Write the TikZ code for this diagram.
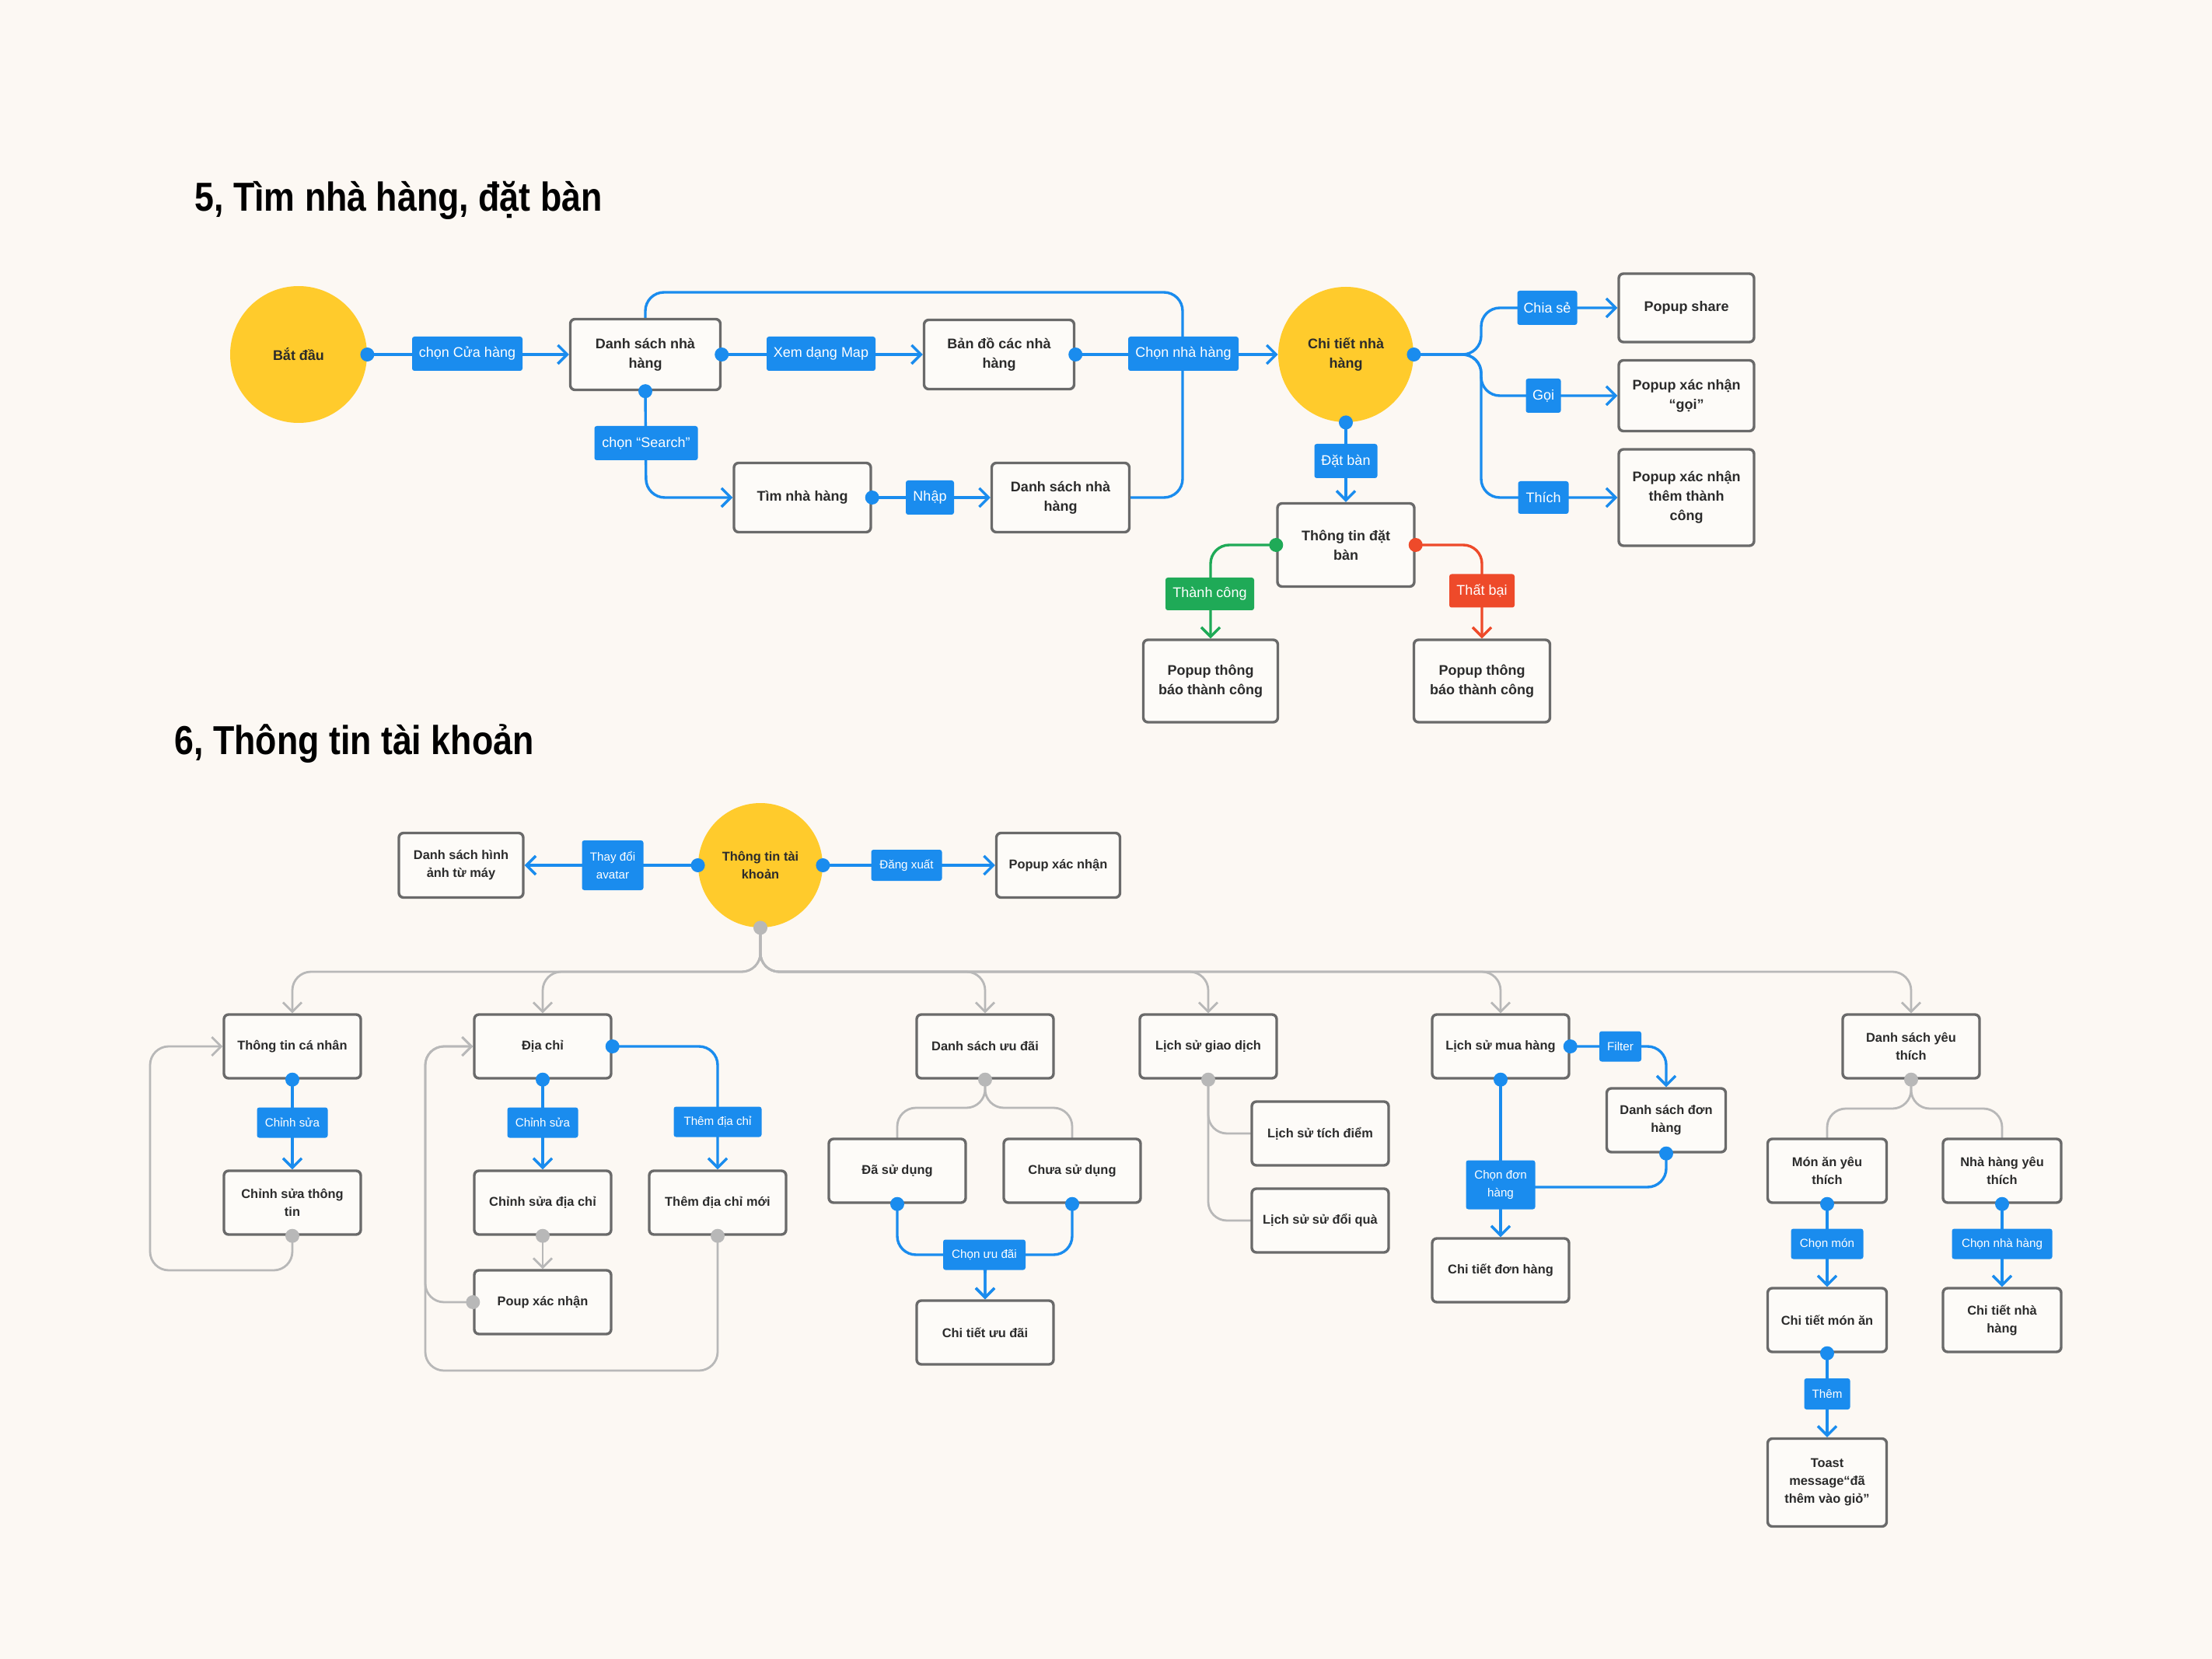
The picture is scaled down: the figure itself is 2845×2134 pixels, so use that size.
\documentclass[tikz,border=0pt]{standalone}
\usepackage{fontspec}
\setmainfont{Liberation Sans}
\newfontfamily\ttlfont{Liberation Sans}[FakeStretch=0.86]
\usetikzlibrary{arrows.meta}
\definecolor{bgc}{HTML}{FCF8F3}
\definecolor{yel}{HTML}{FFCB2C}
\definecolor{blu}{HTML}{1A8CEE}
\definecolor{bxg}{HTML}{6A6A6A}
\definecolor{bxf}{HTML}{FDFBF8}
\definecolor{txt}{HTML}{2B2B2B}
\definecolor{gry}{HTML}{B8B8B8}
\definecolor{grn}{HTML}{1FAA57}
\definecolor{rd}{HTML}{EE4A2A}
\pgfdeclarelayer{back}\pgfdeclarelayer{lines}\pgfsetlayers{back,lines,main}
\newcommand\bxfont{\fontsize{9}{12.5}\selectfont\bfseries}
\newcommand\bxfontb{\fontsize{8.2}{11.5}\selectfont\bfseries}
\newcommand\lbfont{\fontsize{9}{12.5}\selectfont}
\newcommand\lbfontb{\fontsize{7.6}{11.5}\selectfont}
\newcommand\dotat[2]{\fill[#1] (#2) circle (4.5pt);}
\tikzset{
 box/.style={draw=bxg, line width=1.7pt, fill=bxf, rounded corners=3pt, align=center, text=txt, font=\bxfont, inner sep=0pt},
 boxb/.style={box, font=\bxfontb, minimum width=88pt, minimum height=41pt},
 circ/.style={circle, fill=yel, inner sep=0pt, align=center, text=txt, font=\bxfont},
 lab/.style={fill=blu, text=white, rounded corners=1.5pt, inner sep=0pt, align=center, font=\lbfont, minimum height=22pt},
 labb/.style={lab, font=\lbfontb, minimum height=19.5pt},
 conn/.style={line width=1.7pt, rounded corners=12pt, line cap=round, line join=round},
 gconn/.style={conn, gry, line width=1.4pt},
 arr/.style={-{Straight Barb[length=6pt,width=12pt,sharp]}},
 ttl/.style={anchor=base west, text=black, font=\ttlfont\fontsize{26}{30}\selectfont\bfseries, inner sep=0pt}
}
\begin{document}
\begin{tikzpicture}[x=0.5pt,y=-0.5pt]
\useasboundingbox (0,0) rectangle (2845,2134);
\begin{pgfonlayer}{back}
\fill[bgc] (0,0) rectangle (2845,2134);
\end{pgfonlayer}

% ---------- Section 5 ----------
\node[ttl] (t5) at (250,272) {5, Tìm nhà hàng, đặt bàn};
\node[circ, minimum size=88pt] (start) at (384,456) {Bắt đầu};
\node[box, minimum width=96.5pt, minimum height=45.5pt] (ds1) at (830,456) {Danh sách nhà\\hàng};
\node[box, minimum width=96.5pt, minimum height=44.5pt] (map) at (1285,456) {Bản đồ các nhà\\hàng};
\node[box, minimum width=88pt, minimum height=44.5pt] (tim) at (1032,640) {Tìm nhà hàng};
\node[box, minimum width=88.5pt, minimum height=44.5pt] (ds2) at (1364,640) {Danh sách nhà\\hàng};
\node[circ, minimum size=87pt] (ctnh) at (1731,456) {Chi tiết nhà\\hàng};
\node[box, minimum width=87pt, minimum height=44pt] (share) at (2169,396) {Popup share};
\node[box, minimum width=87pt, minimum height=45.5pt] (goi) at (2169,509) {Popup xác nhận\\“gọi”};
\node[box, minimum width=87pt, minimum height=62pt] (thich) at (2169,640) {Popup xác nhận\\thêm thành\\công};
\node[box, minimum width=88pt, minimum height=53.5pt] (ttdb) at (1731,701) {Thông tin đặt\\bàn};
\node[box, minimum width=86.5pt, minimum height=53pt] (pok) at (1557,876) {Popup thông\\báo thành công};
\node[box, minimum width=87.5pt, minimum height=53pt] (pfail) at (1906,876) {Popup thông\\báo thành công};

\begin{pgfonlayer}{lines}
\draw[conn, blu, arr] (start.east) -- (ds1.west);
\draw[conn, blu, arr] (ds1.east) -- (map.west);
\draw[conn, blu, arr] (map.east) -- (ctnh.west);
\draw[conn, blu] (ds1.north) -- (830,376) -- (1521,376) -- (1521,456);
\draw[conn, blu] (ds2.east) -- (1521,640) -- (1521,456);
\draw[conn, blu, arr] (ds1.south) -- (831,640) -- (tim.west);
\draw[conn, blu, arr] (tim.east) -- (ds2.west);
\draw[conn, blu, arr] (ctnh.east) -- (1905,456) -- (1905,396) -- (share.west);
\draw[conn, blu, arr] (ctnh.east) -- (1905,456) -- (1905,509) -- (goi.west);
\draw[conn, blu, arr] (ctnh.east) -- (1905,456) -- (1905,640) -- (thich.west);
\draw[conn, blu, arr] (ctnh.south) -- (ttdb.north);
\draw[conn, grn, arr] (ttdb.west) -- (1557,701) -- (pok.north);
\draw[conn, rd, arr] (ttdb.east) -- (1906,701) -- (pfail.north);
\end{pgfonlayer}

\node[lab, minimum width=71pt] (l1) at (601,455) {chọn Cửa hàng};
\node[lab, minimum width=70pt] (l2) at (1056,455) {Xem dạng Map};
\node[lab, minimum width=71pt] (l3) at (1522,455) {Chọn nhà hàng};
\node[lab, minimum width=66.5pt] (l4) at (831,570) {chọn “Search”};
\node[lab, minimum width=31pt] (l5) at (1196,640) {Nhập};
\node[lab, minimum width=38.5pt] (l6) at (1990,396) {Chia sẻ};
\node[lab, minimum width=22.5pt] (l7) at (1985,509) {Gọi};
\node[lab, minimum width=32.5pt, minimum height=21pt] (l8) at (1985,640) {Thích};
\node[lab, minimum width=40.5pt] (l9) at (1731,593) {Đặt bàn};
\node[lab, fill=grn, minimum width=57pt, minimum height=21pt] (l10) at (1556,764) {Thành công};
\node[lab, fill=rd, minimum width=42pt, minimum height=21.5pt] (l11) at (1906,760) {Thất bại};

% ---------- Section 6 ----------
\node[ttl] (t6) at (224,970) {6, Thông tin tài khoản};
\node[circ, font=\bxfontb, minimum size=80pt] (root) at (978,1113) {Thông tin tài\\khoản};
\node[boxb, minimum width=80pt, minimum height=41.5pt] (dsha) at (593,1113) {Danh sách hình\\ảnh từ máy};
\node[boxb, minimum width=79.5pt, minimum height=41.5pt] (pxn) at (1361,1113) {Popup xác nhận};

\node[boxb] (ttcn) at (376,1346) {Thông tin cá nhân};
\node[boxb] (dc) at (698,1346) {Địa chỉ};
\node[boxb] (dsud) at (1267,1346) {Danh sách ưu đãi};
\node[boxb] (lsgd) at (1554,1346) {Lịch sử giao dịch};
\node[boxb] (lsmh) at (1930,1346) {Lịch sử mua hàng};
\node[boxb] (dsyt) at (2458,1346) {Danh sách yêu\\thích};

\node[boxb] (cstt) at (376,1547) {Chỉnh sửa thông\\tin};
\node[boxb] (csdc) at (698,1547) {Chỉnh sửa địa chỉ};
\node[boxb] (pxn2) at (698,1675) {Poup xác nhận};
\node[boxb] (tdcm) at (923,1547) {Thêm địa chỉ mới};
\node[boxb] (dsd) at (1154,1506) {Đã sử dụng};
\node[boxb] (csd) at (1379,1506) {Chưa sử dụng};
\node[boxb] (ctud) at (1267,1714) {Chi tiết ưu đãi};
\node[boxb] (lstd) at (1698,1458) {Lịch sử tích điểm};
\node[boxb] (lsdq) at (1698,1570) {Lịch sử sử đổi quà};
\node[boxb, minimum width=76.5pt] (dsdh) at (2143,1441) {Danh sách đơn\\hàng};
\node[boxb] (ctdh) at (1930,1634) {Chi tiết đơn hàng};
\node[boxb, minimum width=76.5pt] (maty) at (2350,1506) {Món ăn yêu\\thích};
\node[boxb, minimum width=76pt] (nhyt) at (2575,1506) {Nhà hàng yêu\\thích};
\node[boxb, minimum width=76.5pt] (ctma) at (2350,1698) {Chi tiết món ăn};
\node[boxb, minimum width=76pt] (ctnh2) at (2575,1698) {Chi tiết nhà\\hàng};
\node[boxb, minimum width=76.5pt, minimum height=56.5pt] (toast) at (2350,1907) {Toast\\message“đã\\thêm vào giỏ”};

\begin{pgfonlayer}{lines}
\draw[conn, blu, arr] (root.west) -- (dsha.east);
\draw[conn, blu, arr] (root.east) -- (pxn.west);
\foreach \c in {ttcn,dc,dsud,lsgd,lsmh,dsyt}{
  \draw[gconn, arr] (root.south) -- (978,1250) -| (\c.north);
}
\draw[conn, blu, arr] (ttcn.south) -- (cstt.north);
\draw[gconn, arr] (cstt.south) -- (376,1634) -- (193,1634) -- (193,1346) -- (ttcn.west);
\draw[conn, blu, arr] (dc.south) -- (csdc.north);
\draw[conn, blu, arr] (dc.east) -| (tdcm.north);
\draw[gconn, arr] (csdc.south) -- (pxn2.north);
\draw[gconn, arr] (pxn2.west) -- (547,1675) -- (547,1346) -- (dc.west);
\draw[gconn, arr] (tdcm.south) -- (923,1763) -- (547,1763) -- (547,1346) -- (dc.west);
\draw[gconn] (dsud.south) -- (1267,1425) -| (dsd.north);
\draw[gconn] (dsud.south) -- (1267,1425) -| (csd.north);
\draw[conn, blu, arr] (dsd.south) |- (1267,1614) -- (ctud.north);
\draw[conn, blu, arr] (csd.south) |- (1267,1614) -- (ctud.north);
\draw[gconn] (lsgd.south) |- (lstd.west);
\draw[gconn] (lsgd.south) |- (lsdq.west);
\draw[conn, blu, arr] (lsmh.east) -| (dsdh.north);
\draw[conn, blu, arr] (lsmh.south) -- (ctdh.north);
\draw[conn, blu] (dsdh.south) |- (1930,1527);
\draw[gconn] (dsyt.south) -- (2458,1426) -| (maty.north);
\draw[gconn] (dsyt.south) -- (2458,1426) -| (nhyt.north);
\draw[conn, blu, arr] (maty.south) -- (ctma.north);
\draw[conn, blu, arr] (nhyt.south) -- (ctnh2.north);
\draw[conn, blu, arr] (ctma.south) -- (toast.north);
\end{pgfonlayer}

\node[labb, minimum width=39.5pt, minimum height=32pt] (lav) at (788,1113) {Thay đổi\\avatar};
\node[labb, minimum width=45.5pt, minimum height=20pt] (ldx) at (1166,1113) {Đăng xuất};
\node[labb, minimum width=45.5pt] (cs1) at (376,1444) {Chỉnh sửa};
\node[labb, minimum width=45.5pt] (cs2) at (698,1444) {Chỉnh sửa};
\node[labb, minimum width=56.5pt] (tdc) at (923,1443) {Thêm địa chỉ};
\node[labb, minimum width=53pt] (cud) at (1266,1614) {Chọn ưu đãi};
\node[labb, minimum width=27pt] (flt) at (2084,1346) {Filter};
\node[labb, minimum width=44.5pt, minimum height=31.5pt] (cdh) at (1930,1524) {Chọn đơn\\hàng};
\node[labb, minimum width=46.5pt] (cm) at (2350,1600) {Chọn món};
\node[labb, minimum width=64.5pt] (cnh) at (2575,1600) {Chọn nhà hàng};
\node[labb, minimum width=29.5pt, minimum height=20pt] (them) at (2350,1793) {Thêm};

% ---------- dots ----------
\foreach \p in {start.east,ds1.east,ds1.south,map.east,tim.east,ctnh.east,ctnh.south,root.west,root.east,ttcn.south,dc.south,dc.east,dsd.south,csd.south,lsmh.east,lsmh.south,dsdh.south,maty.south,nhyt.south,ctma.south}{
  \dotat{blu}{\p}
}
\dotat{grn}{ttdb.west}
\dotat{rd}{ttdb.east}
\foreach \p in {root.south,cstt.south,csdc.south,pxn2.west,tdcm.south,dsud.south,lsgd.south,dsyt.south}{
  \dotat{gry}{\p}
}
\end{tikzpicture}
\end{document}
